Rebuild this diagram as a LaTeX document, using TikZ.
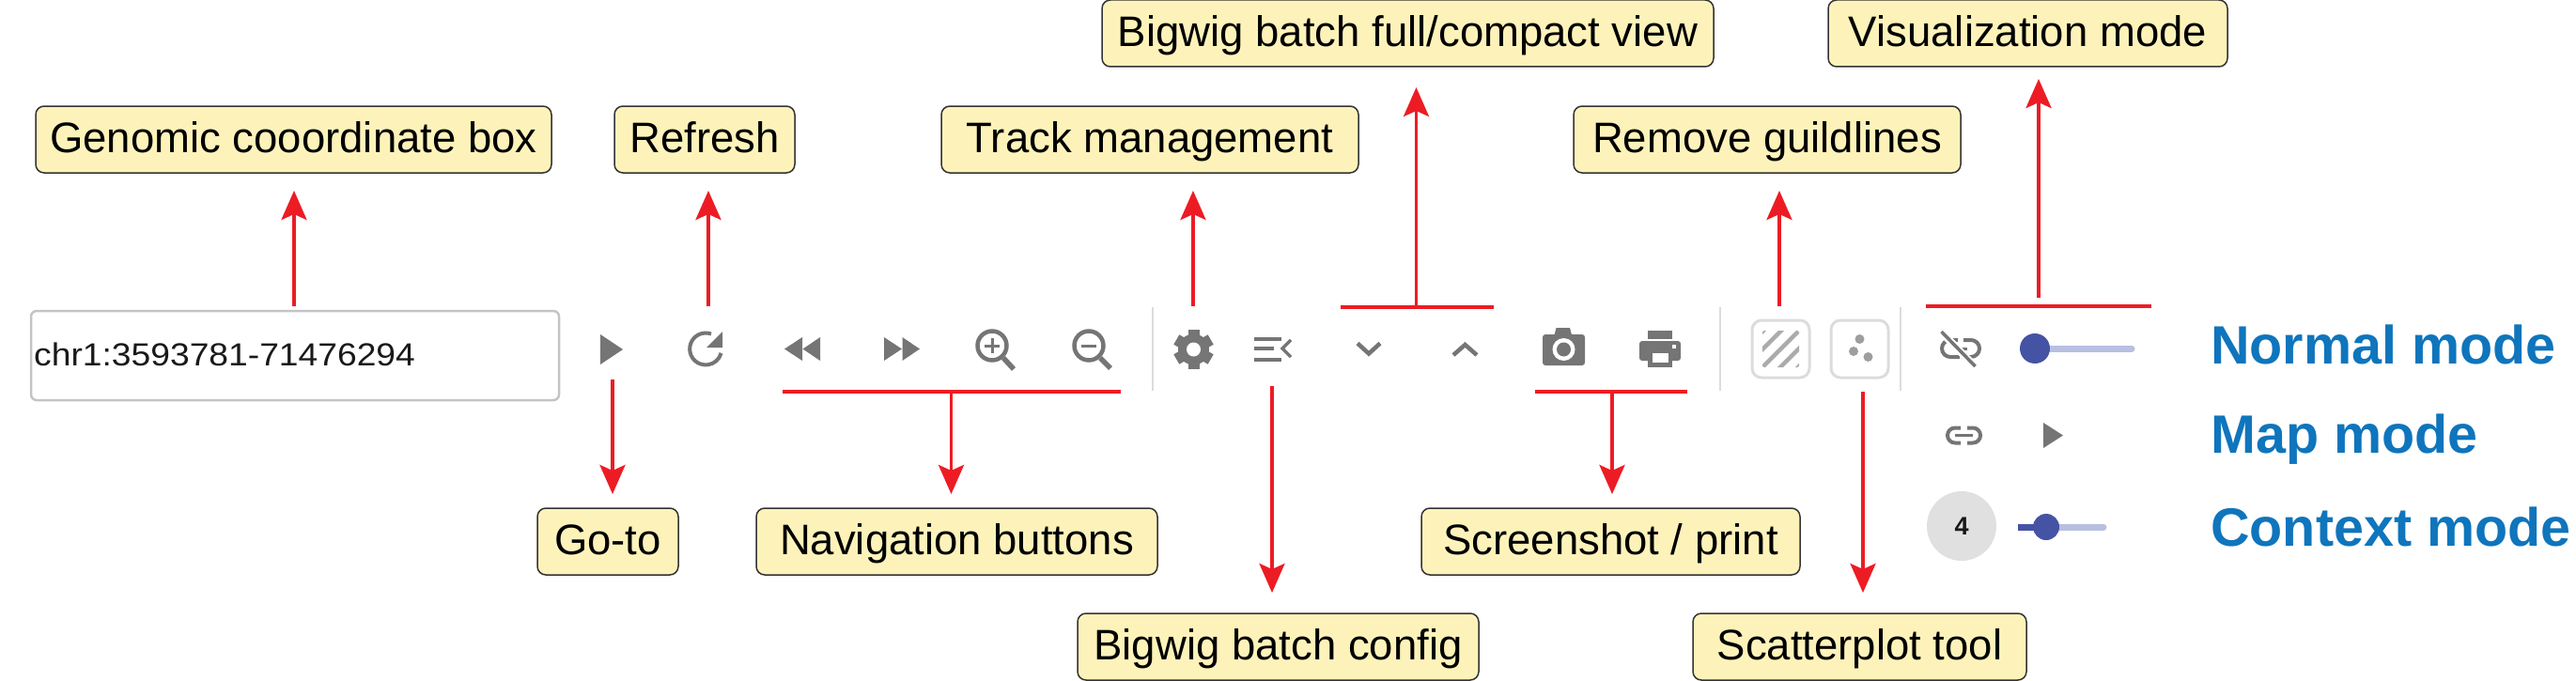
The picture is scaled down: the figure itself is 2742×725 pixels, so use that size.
\documentclass[tikz,border=0pt]{standalone}
\usepackage{fontspec}
\usepackage{graphicx}
\setmainfont{Liberation Sans}
\usetikzlibrary{arrows.meta}
\definecolor{lab}{HTML}{FDF3BA}
\definecolor{rd}{HTML}{ED1C24}
\definecolor{ic}{HTML}{757575}
\definecolor{modeblue}{HTML}{0F75BC}
\definecolor{thumb}{HTML}{4553A5}
\definecolor{track}{HTML}{B8BFE0}
\definecolor{sepc}{HTML}{DCDCDC}
\tikzset{
  labelbox/.style={draw=black!80,line width=1.5pt,fill=lab,rounded corners=9pt,inner sep=0pt,outer sep=0pt,
    font=\fontsize{45.5}{50}\selectfont,text height=34pt,text depth=6pt,align=center,anchor=center},
  arr/.style={draw=rd,line width=3.6pt,-{Stealth[length=31pt,width=27pt,inset=6pt,fill=rd]}},
  hbar/.style={draw=rd,line width=4pt},
  sep/.style={draw=sepc,line width=2.5pt},
  modetext/.style={text=modeblue,font=\fontsize{57.5}{60}\selectfont\bfseries,anchor=base west,inner sep=0pt},
  iconl/.style={draw=ic,line width=4pt},
  tool/.style={draw=sepc,line width=3pt,rounded corners=10pt},
}
\begin{document}
\begin{tikzpicture}[x=1pt,y=-1pt]
\useasboundingbox (0,0) rectangle (2742,725);
% labels
\node[labelbox,minimum width=549pt,minimum height=71pt] (gcb) at (312.5,148.5) {Genomic cooordinate box};
\node[labelbox,minimum width=192pt,minimum height=71pt] (refresh) at (750,148.5) {Refresh};
\node[labelbox,minimum width=444pt,minimum height=71pt] (track) at (1224,148.5) {Track management};
\node[labelbox,minimum width=651pt,minimum height=71pt] (full) at (1498.5,35.5) {Bigwig batch full/compact view};
\node[labelbox,minimum width=412pt,minimum height=71pt] (remove) at (1881,148.5) {Remove guildlines};
\node[labelbox,minimum width=425pt,minimum height=71pt] (viz) at (2158.5,35.5) {Visualization mode};
\node[labelbox,minimum width=150pt,minimum height=71pt] (goto) at (647,576.5) {Go-to};
\node[labelbox,minimum width=427pt,minimum height=71pt] (nav) at (1018.5,576.5) {Navigation buttons};
\node[labelbox,minimum width=403pt,minimum height=71pt] (shot) at (1714.5,576.5) {Screenshot / print};
\node[labelbox,minimum width=427pt,minimum height=71pt] (config) at (1360.5,688.5) {Bigwig batch config};
\node[labelbox,minimum width=355pt,minimum height=71pt] (scatter) at (1979.5,688.5) {Scatterplot tool};
% mode texts
\node[modetext] (mnormal) at (2353,387) {Normal mode};
\node[modetext] (mmap) at (2353,482) {Map mode};
\node[modetext] (mcontext) at (2353,581) {Context mode};
% input box
\node[draw=black!23,line width=2.5pt,rounded corners=6pt,minimum width=562pt,minimum height=95pt,inner sep=0pt] (input) at (314,378.5) {};
\node[anchor=base west,inner sep=0pt,text=black!90,font=\fontsize{34}{36}\selectfont] (coord) at (36,389) {\scalebox{1.095}[1]{chr1:3593781-71476294}};
% separators
\draw[sep] (1227,327) -- (1227,416);
\draw[sep] (1831,327) -- (1831,416);
\draw[sep] (2023,327) -- (2023,416);
% play
\fill[ic] (639,356) -- (663,372) -- (639,388) -- cycle;
% refresh
\draw[iconl] (757,355.5) arc[start angle=70,end angle=345,radius=17pt];
\fill[ic] (769,353) -- (769,370) -- (752,370) -- cycle;
% rewind, forward
\fill[ic] (835,371.5) -- (854,359) -- (854,384) -- cycle;
\fill[ic] (854.5,371.5) -- (873,359) -- (873,384) -- cycle;
\fill[ic] (941,359) -- (960,371.5) -- (941,384) -- cycle;
\fill[ic] (960.5,359) -- (979,371.5) -- (960.5,384) -- cycle;
% zoom in, zoom out
\draw[iconl,line width=4.5pt] (1056,368) circle[radius=15.5pt];
\draw[ic,line width=5.5pt] (1068,381) -- (1079,393);
\draw[ic,line width=3pt] (1048,368) -- (1064,368) (1056,360) -- (1056,376);
\draw[iconl,line width=4.5pt] (1159,368) circle[radius=15.5pt];
\draw[ic,line width=5.5pt] (1171,381) -- (1182,392);
\draw[ic,line width=3pt] (1151,368) -- (1167,368);
% gear
\foreach \a in {0,60,120}{
  \fill[ic,rotate around={\a:(1270.5,372)}] (1264.5,351) rectangle (1276.5,393);
}
\fill[ic] (1270.5,372) circle[radius=16.5pt];
\fill[white] (1270.5,372) circle[radius=7.5pt];
% batch config icon
\draw[ic,line width=4pt] (1335,361) -- (1364,361) (1335,371) -- (1356,371) (1335,383) -- (1364,383);
\draw[ic,line width=3.5pt] (1374,362) -- (1365,371) -- (1374,380);
% chevrons
\draw[ic,line width=4.5pt] (1445,365.5) -- (1457,376.5) -- (1469,365.5);
\draw[ic,line width=4.5pt] (1547,378) -- (1559.5,367) -- (1572,378);
% camera
\fill[ic,rounded corners=3pt] (1642,356) rectangle (1687,389);
\fill[ic] (1654.5,356.5) -- (1656.5,349) -- (1671,349) -- (1673,356.5) -- cycle;
\fill[white] (1664.5,372) circle[radius=12pt];
\fill[ic] (1664.5,372) circle[radius=7.5pt];
% printer
\fill[ic] (1754,352) rectangle (1780,361);
\fill[ic,rounded corners=3pt] (1745,363) rectangle (1789,384);
\fill[ic] (1754,376) rectangle (1780,391);
\fill[white] (1758.5,376) rectangle (1776,386);
\fill[white] (1780,367) rectangle (1783.5,371);
% guideline tool
\draw[tool] (1865,341) rectangle (1926,402);
\begin{scope}
\clip[rounded corners=2pt] (1876,352) rectangle (1915,391);
\foreach \k in {-2,-1,0,1,2}{
  \draw[black!33,line width=4.5pt] ({1876+\k*19-5},{391+5}) -- ({1915+\k*19+5},{352-5});
}
\end{scope}
% scatter tool
\draw[tool] (1949,341) rectangle (2010,402);
\fill[black!38] (1979.5,361) circle[radius=5pt] (1973,374) circle[radius=5pt] (1988.5,380) circle[radius=5pt];
% link off
\draw[ic,line width=4pt] (2084,362) -- (2076,362) arc[start angle=90,end angle=270,radius=9pt] -- (2086,380);
\draw[ic,line width=4pt] (2090,362) -- (2098,362) arc[start angle=90,end angle=-90,radius=9pt] -- (2088,380);
\draw[ic,line width=3pt] (2080,371) -- (2094,371);
\draw[white,line width=8pt] (2069,356) -- (2100,388);
\draw[ic,line width=3.5pt] (2066.5,353) -- (2102.5,390);
% normal slider
\draw[track,line width=7pt,line cap=round] (2166,371) -- (2269,371);
\fill[thumb] (2166,371) circle[radius=16pt];
% map link
\draw[ic,line width=4pt] (2087,455.5) -- (2081,455.5) arc[start angle=90,end angle=270,radius=8pt] -- (2087,471.5);
\draw[ic,line width=4pt] (2094,455.5) -- (2100,455.5) arc[start angle=90,end angle=-90,radius=8pt] -- (2094,471.5);
\draw[ic,line width=3.5pt] (2081,463.5) -- (2100,463.5);
\fill[ic] (2175,450) -- (2196,463.5) -- (2175,477) -- cycle;
% context
\node[circle,fill=black!12,minimum size=74pt,inner sep=0pt,font=\fontsize{27}{28}\selectfont\bfseries,text=black!90] (ctx) at (2088,560) {4};
\draw[track,line width=7pt,line cap=round] (2178,561) -- (2239,561);
\draw[thumb,line width=7pt] (2148,561) -- (2178,561);
\fill[thumb] (2178,561) circle[radius=14pt];
% red bars
\coordinate (navl) at (833,417); \coordinate (navr) at (1193,417);
\coordinate (fulll) at (1427,327); \coordinate (fullr) at (1590,327);
\coordinate (shotl) at (1634,417); \coordinate (shotr) at (1796,417);
\coordinate (vizl) at (2050,326); \coordinate (vizr) at (2290,326);
\draw[hbar] (navl) -- (navr);
\draw[hbar] (fulll) -- (fullr);
\draw[hbar] (shotl) -- (shotr);
\draw[hbar] (vizl) -- (vizr);
% connector sources
\coordinate (sgcb) at (313,326);
\coordinate (srefresh) at (754,326);
\coordinate (strack) at (1270,326);
\coordinate (sfull) at (1507.5,327);
\coordinate (sremove) at (1894,326);
\coordinate (sviz) at (2170,317);
\coordinate (sgoto) at (652,404);
\coordinate (snav) at (1012.5,417);
\coordinate (sshot) at (1716,417);
\coordinate (sconfig) at (1354,411);
\coordinate (sscatter) at (1983,417);
% connectors
\draw[arr,shorten >=19pt] (sgcb) -- (sgcb |- gcb.south);
\draw[arr,shorten >=19pt] (srefresh) -- (srefresh |- refresh.south);
\draw[arr,shorten >=19pt] (strack) -- (strack |- track.south);
\draw[arr,shorten >=22pt] (sfull) -- (sfull |- full.south);
\draw[arr,shorten >=19pt] (sremove) -- (sremove |- remove.south);
\draw[arr,shorten >=13pt] (sviz) -- (sviz |- viz.south);
\draw[arr,shorten >=15pt] (sgoto) -- (sgoto |- goto.north);
\draw[arr,shorten >=15pt] (snav) -- (snav |- nav.north);
\draw[arr,shorten >=15pt] (sshot) -- (sshot |- shot.north);
\draw[arr,shorten >=22pt] (sconfig) -- (sconfig |- config.north);
\draw[arr,shorten >=22pt] (sscatter) -- (sscatter |- scatter.north);
\end{tikzpicture}
\end{document}
